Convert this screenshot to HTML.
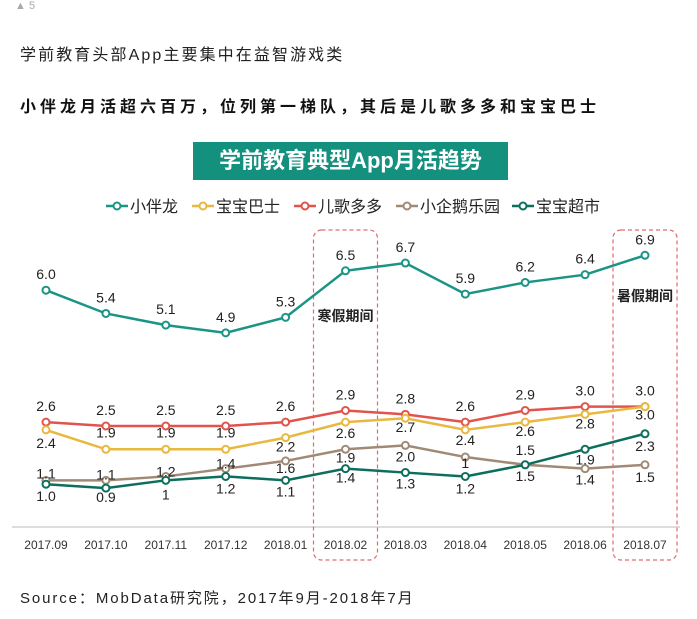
<!DOCTYPE html>
<html><head><meta charset="utf-8"><style>
body{margin:0;width:697px;height:619px;background:#fff;overflow:hidden;font-family:"Liberation Sans","Noto Sans CJK SC",sans-serif;}
.abs{position:absolute;white-space:nowrap;}
</style></head><body>
<div class="abs" style="left:15px;top:0px;font-size:11px;color:#aaa;">▲ 5</div>
<div class="abs" style="left:20px;top:41px;font-size:16px;color:#222;letter-spacing:2.1px;">学前教育头部App主要集中在益智游戏类</div>
<div class="abs" style="left:20px;top:93px;font-size:16px;font-weight:bold;color:#111;letter-spacing:4px;">小伴龙月活超六百万，位列第一梯队，其后是儿歌多多和宝宝巴士</div>
<div class="abs" style="left:193px;top:142px;width:315px;height:38px;background:#14907f;color:#fff;font-size:22px;font-weight:bold;text-align:center;line-height:38px;">学前教育典型App月活趋势</div>
<svg class="abs" style="left:0;top:0" width="697" height="619" id="chart"></svg>
<div class="abs" style="left:20px;top:587px;font-size:15px;color:#222;letter-spacing:1.9px;">Source：MobData研究院，2017年9月-2018年7月</div>
<script>
const categories=["2017.09","2017.10","2017.11","2017.12","2018.01","2018.02","2018.03","2018.04","2018.05","2018.06","2018.07"];
const xiaobanlong=[6.0,5.4,5.1,4.9,5.3,6.5,6.7,5.9,6.2,6.4,6.9];
const baobaobashi=[2.4,1.9,1.9,1.9,2.2,2.6,2.7,2.4,2.6,2.8,3.0];
const ergeduoduo=[2.6,2.5,2.5,2.5,2.6,2.9,2.8,2.6,2.9,3.0,3.0];
const xiaoqie=[1.1,1.1,1.2,1.4,1.6,1.9,2.0,1.7,1.5,1.4,1.5];
const xiaoqieLabels=["1.1","1.1","1.2","1.4","1.6","1.9","2.0","1","1.5","1.4","1.5"];
const chaoshi=[1.0,0.9,1.1,1.2,1.1,1.4,1.3,1.2,1.5,1.9,2.3];
const chaoshiLabels=["1.0","0.9","1","1.2","1.1","1.4","1.3","1.2","1.5","1.9","2.3"];
const seriesNames=["小伴龙","宝宝巴士","儿歌多多","小企鹅乐园","宝宝超市"];
const svg=document.getElementById('chart');
const NS='http://www.w3.org/2000/svg';
const xs=i=>46+i*59.9;
const ys=v=>523-v*38.8;
function mk(tag,attrs,parent){const e=document.createElementNS(NS,tag);for(const k in attrs)e.setAttribute(k,attrs[k]);(parent||svg).appendChild(e);return e;}
let ax=mk('line',{x1:12,x2:680,y1:527,y2:527,stroke:'#ddd','stroke-width':2});


categories.forEach((c,i)=>{
  const t=mk('text',{x:xs(i),y:549,'text-anchor':'middle','font-size':12,fill:'#333'});t.textContent=c;
  
  
});
[[5,'寒假期间',321],[10,'暑假期间',301]].forEach(([i,txt,ty])=>{
  const r=mk('rect',{x:xs(i)-32,y:230,width:64,height:330,rx:8,fill:'none',stroke:'#e06a70','stroke-width':1.2,'stroke-dasharray':'4,3'});
  
  
  const t=mk('text',{x:xs(i),y:ty,'text-anchor':'middle','font-size':14,'font-weight':'bold',fill:'#222'});t.textContent=txt;
  
  
});
const A=-11,B=16;
const series=[
 {d:xiaobanlong,c:'#1a9585',lab:xiaobanlong.map(v=>v.toFixed(1)),dy:[A,A,A,A,A,A,A,A,A,A,A]},
 {d:ergeduoduo,c:'#e0544c',lab:ergeduoduo.map(v=>v.toFixed(1)),dy:[A,A,A,A,A,A,A,A,A,A,A]},
 {d:baobaobashi,c:'#e8b840',lab:baobaobashi.map(v=>v.toFixed(1)),dy:[18,-12,-12,-12,14,16,14,15,14,14,13]},
 {d:xiaoqie,c:'#a08a76',lab:xiaoqieLabels,dy:[-2,-1,0,0,12,13,16,11,16,16,17]},
 {d:chaoshi,c:'#0d6e5c',lab:chaoshiLabels,dy:[17,14,19,17,16,14,16,17,-10,15,17]}
];
series.forEach((s,si)=>{
  const pl=mk('polyline',{points:s.d.map((v,i)=>xs(i)+','+ys(v)).join(' '),fill:'none',stroke:s.c,'stroke-width':2.5});
  
  
  s.d.forEach((v,i)=>{
    const p=mk('circle',{cx:xs(i),cy:ys(v),r:3.5,fill:'#fff',stroke:s.c,'stroke-width':2});
    
    
    const t=mk('text',{x:xs(i),y:ys(v)+s.dy[i],'text-anchor':'middle','font-size':14,fill:'#222'});
    t.textContent=s.lab[i];
    
    
  });
});
const legX=[106,192,294,396,512];
const legC=['#1a9585','#e8b840','#e0544c','#a08a76','#0d6e5c'];
seriesNames.forEach((n,i)=>{
  const g=mk('g',{});
  
  
  mk('line',{x1:legX[i],x2:legX[i]+22,y1:206,y2:206,stroke:legC[i],'stroke-width':2.5},g);
  mk('circle',{cx:legX[i]+11,cy:206,r:3.5,fill:'#fff',stroke:legC[i],'stroke-width':2},g);
  const t=mk('text',{x:legX[i]+24,y:212,'font-size':16,fill:'#222'},g);t.textContent=n;
});
</script>
</body></html>
